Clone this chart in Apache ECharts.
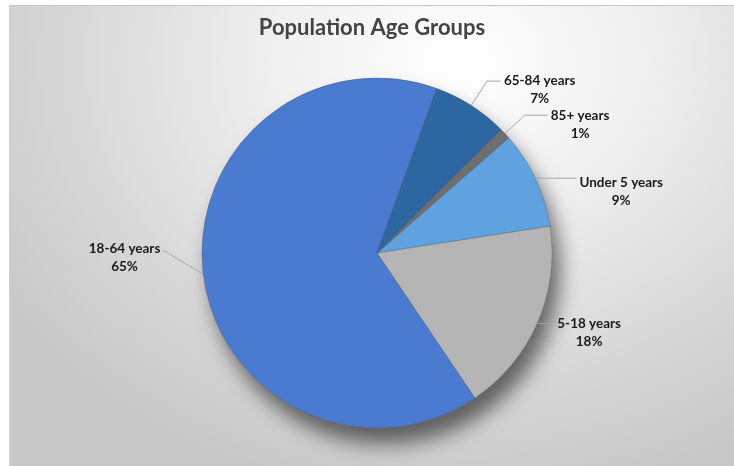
<!DOCTYPE html>
<html>
<head>
<meta charset="utf-8">
<script src="https://cdn.jsdelivr.net/npm/echarts@6/dist/echarts.min.js"></script>
<style>
  html, body { margin: 0; padding: 0; background: #ffffff; width: 734px; height: 466px; overflow: hidden; }
  #chart {
    position: absolute; left: 9px; top: 5px; width: 725px; height: 461px;
    border-top: 1px solid #c4c4c4; border-left: 1px solid #d0d0d0; box-sizing: border-box;
    background: radial-gradient(ellipse 75% 95% at 62% 12%, #ffffff 0%, #efefef 35%, #d6d6d6 75%, #c8c8c8 100%);
  }
</style>
</head>
<body>
<div id="chart"></div>
<script>
const titleText = 'Population Age Groups';
const categories = ['Under 5 years', '5-18 years', '18-64 years', '65-84 years', '85+ years'];
const values = [9, 18, 65, 7, 1];
const colors = ['#60a2e0', '#b4b4b4', '#4a7bd1', '#2c67a1', '#6f6f6f'];
// per-label leader line settings (style only)
const lineLen = [2, 1, 2, 29, 27];
const lineLen2 = [39, 16, 38, 14, 23];
const labelPad = [[26, 0, 0, 0], [18, 0, 0, 0], [0, 0, 34, 0], [18, 0, 0, 0], [18, 0, 0, 0]];

const chart = echarts.init(document.getElementById('chart'));
const center = [367, 247];
const radius = 175;
const font = 'Lato, "Open Sans", sans-serif';

const data = categories.map((name, i) => ({
  name: name,
  value: values[i],
  itemStyle: { color: colors[i] },
  label: { padding: labelPad[i] },
  labelLine: { length: lineLen[i], length2: lineLen2[i] }
}));

chart.setOption({
  backgroundColor: 'transparent',
  title: {
    text: titleText,
    left: 'center',
    top: 6,
    padding: [5, 0, 5, 8],
    textStyle: { fontFamily: font, fontSize: 22, fontWeight: 'bold', color: '#444444' }
  },
  series: [
    {
      type: 'pie',
      silent: true,
      z: 1,
      center: center,
      radius: radius,
      animation: false,
      label: { show: false },
      labelLine: { show: false },
      itemStyle: {
        color: '#9a9a9a',
        shadowBlur: 20,
        shadowOffsetX: 8,
        shadowOffsetY: 16,
        shadowColor: 'rgba(0,0,0,0.55)'
      },
      data: [{ value: 1, name: 'shadow' }]
    },
    {
      type: 'pie',
      z: 2,
      center: center,
      radius: radius,
      startAngle: 41.2,
      clockwise: true,
      avoidLabelOverlap: false,
      animation: false,
      itemStyle: { borderColor: 'rgba(70,70,70,0.35)', borderWidth: 0.8 },
      label: {
        show: true,
        position: 'outside',
        distanceToLabelLine: 3,
        formatter: '{a|{b}}\n{a|{d}%}',
        rich: {
          a: { fontFamily: font, fontSize: 13.5, fontWeight: 'bold', color: '#1a1a1a', lineHeight: 18, align: 'center' }
        }
      },
      labelLine: {
        show: true,
        lineStyle: { color: '#a6a6a6', width: 1 }
      },
      labelLayout: function (p) {
        if (p.dataIndex !== 2 || !p.labelLinePoints) return {};
        const pts = p.labelLinePoints;
        const r = p.labelRect;
        const endX = r.x + r.width + 2;
        const endY = r.y + 9;
        return { labelLinePoints: [pts[0], [endX + 3, endY + 1], [endX, endY]] };
      },
      emphasis: { disabled: true },
      data: data
    }
  ]
});
</script>
</body>
</html>
